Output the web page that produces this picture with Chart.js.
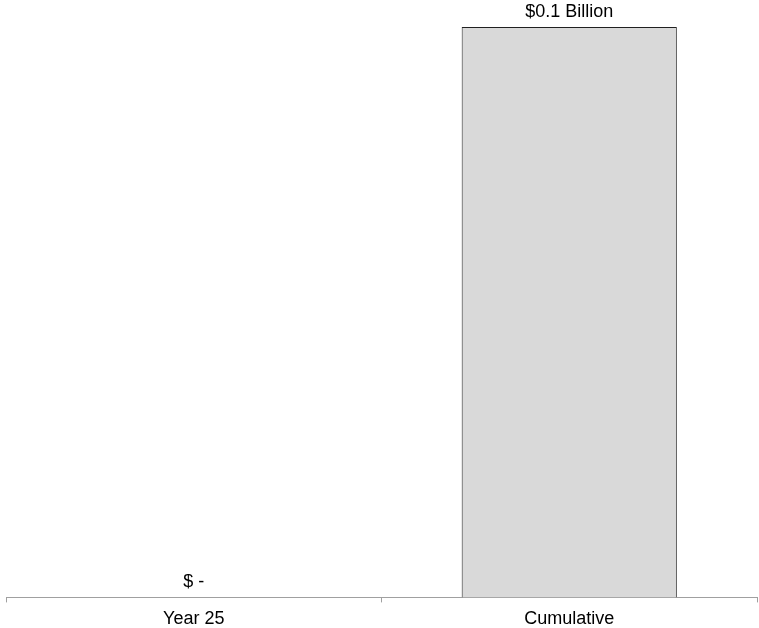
<!DOCTYPE html>
<html>
<head>
<meta charset="utf-8">
<script src="https://cdn.jsdelivr.net/npm/chart.js@4"></script>
<style>
  html, body { margin: 0; padding: 0; background: #fff; }
  #wrap { width: 759px; height: 628px; }
</style>
</head>
<body>
<div id="wrap"><canvas id="myChart" width="759" height="628"></canvas></div>
<script>
const categories = ['Year 25', 'Cumulative'];
const values = [0, 0.1];
const valueLabels = ['$ -', '$0.1 Billion'];

// draws the value text above each bar
const barLabels = {
    id: 'barLabels',
    afterDatasetsDraw(chart) {
        const ctx = chart.ctx;
        const meta = chart.getDatasetMeta(0);
        ctx.save();
        ctx.font = '18px "Liberation Sans", Arial, sans-serif';
        ctx.fillStyle = '#000';
        ctx.textAlign = 'center';
        ctx.textBaseline = 'middle';
        meta.data.forEach((bar, i) => {
            ctx.fillText(valueLabels[i], bar.x, bar.y - 15);
        });
        ctx.restore();
    }
};

const ctx = document.getElementById('myChart').getContext('2d');
new Chart(ctx, {
    type: 'bar',
    data: {
        labels: categories,
        datasets: [{
            data: values,
            backgroundColor: '#d9d9d9',
            borderColor: '#202020',
            borderWidth: 1,
            barPercentage: 0.573,
            categoryPercentage: 1
        }]
    },
    options: {
        responsive: false,
        animation: false,
        layout: { padding: { top: 27, left: 6, right: 2, bottom: -8 } },
        plugins: {
            legend: { display: false },
            tooltip: { enabled: false }
        },
        scales: {
            x: {
                border: { display: true, color: '#a0a0a0', width: 1 },
                grid: {
                    drawOnChartArea: false,
                    drawTicks: true,
                    tickLength: 5,
                    color: '#a0a0a0'
                },
                ticks: {
                    color: '#000',
                    padding: 6,
                    font: { family: '"Liberation Sans", Arial, sans-serif', size: 18 }
                }
            },
            y: {
                display: false,
                min: 0,
                max: 0.1
            }
        }
    },
    plugins: [barLabels]
});
</script>
</body>
</html>
